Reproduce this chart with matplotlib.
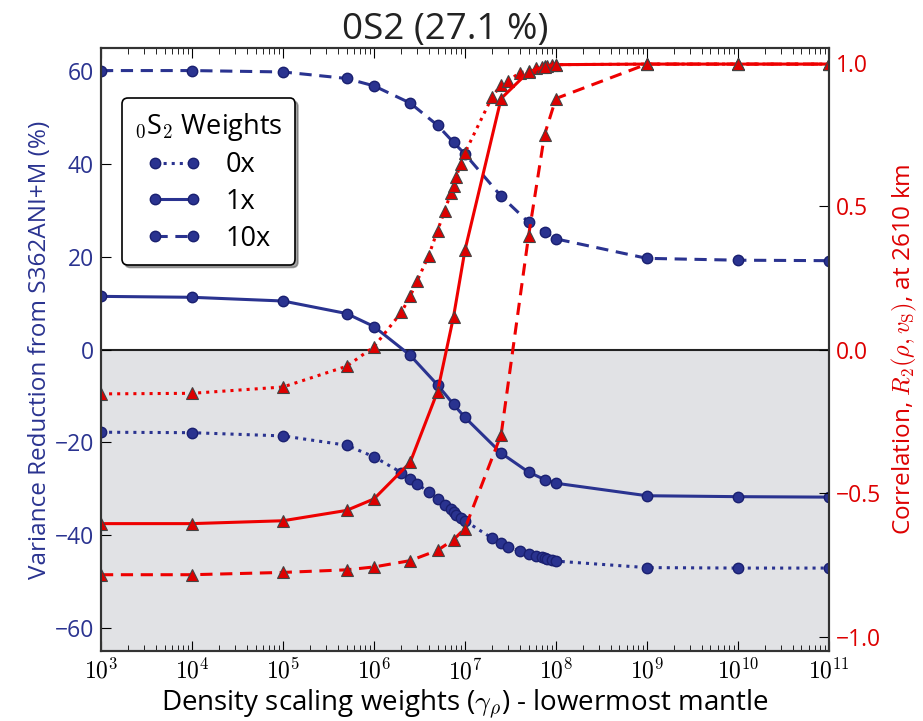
import numpy as np
import matplotlib.pyplot as plt
from matplotlib.ticker import FuncFormatter, FixedLocator

plt.rcParams['font.family'] = ['Open Sans', 'DejaVu Sans']
plt.rcParams['mathtext.fontset'] = 'cm'

# x grids (density scaling weights)
x_sparse = [1e3, 1e4, 1e5, 5e5, 1e6, 2.5e6, 5e6, 7.5e6, 1e7, 2.5e7, 5e7,
            7.5e7, 1e8, 1e9, 1e10, 1e11]
x_dense = [1e3, 1e4, 1e5, 5e5, 1e6, 2e6, 2.5e6, 3e6, 4e6, 5e6, 6e6, 7e6,
           7.5e6, 8e6, 9e6, 1e7, 2e7, 2.5e7, 3e7, 4e7, 5e7, 6e7, 7e7, 7.5e7,
           8e7, 9e7, 1e8, 1e9, 1e10, 1e11]

# variance reduction (%) - left axis
vr_0x = [-17.8, -17.9, -18.6, -20.6, -23.1, -26.5, -27.8, -28.9, -30.8, -32.3,
         -33.5, -34.4, -35.0, -35.6, -36.3, -36.9, -40.7, -41.8, -42.6, -43.4,
         -44.0, -44.5, -44.8, -45.0, -45.2, -45.4, -45.6, -47.0, -47.1, -47.1]
vr_1x = [11.5, 11.3, 10.5, 7.8, 5.0, -1.2, -7.6, -11.8, -14.6, -22.3, -26.4,
         -28.0, -28.8, -31.5, -31.7, -31.8]
vr_10x = [60.2, 60.2, 59.9, 58.5, 56.9, 53.2, 48.4, 44.7, 42.2, 33.1, 27.5,
          25.4, 23.9, 19.7, 19.3, 19.2]

# correlation R2(rho, vs) - right axis
r_0x = [-0.154, -0.152, -0.130, -0.058, 0.010, 0.130, 0.186, 0.241, 0.328,
        0.415, 0.484, 0.546, 0.571, 0.602, 0.646, 0.686, 0.882, 0.923, 0.937,
        0.965, 0.970, 0.980, 0.985, 0.987, 0.989, 0.991, 0.993, 0.995, 0.995,
        0.995]
r_1x = [-0.606, -0.606, -0.596, -0.560, -0.520, -0.393, -0.146, 0.115, 0.346,
        0.875, 0.968, 0.986, 0.993, 0.995, 0.995, 0.995]
r_10x = [-0.784, -0.784, -0.776, -0.767, -0.757, -0.735, -0.699, -0.662,
         -0.623, -0.296, 0.395, 0.749, 0.875, 0.995, 0.995, 0.995]

decades = [3, 4, 5, 6, 7, 8, 9, 10, 11]

blue = '#2a3390'
red = '#ee0000'
red_txt = '#dd0000'

fig = plt.figure(figsize=(9.23, 7.21), dpi=100)
ax1 = fig.add_subplot(111)
fig.subplots_adjust(left=0.1094, right=0.898, bottom=0.097, top=0.933)

ax1.axhspan(-65, 0, color='#e1e2e5', zorder=0)
ax1.axhline(0, color='#222222', lw=1.5, zorder=1)

mk = dict(marker='o', ms=7.5, color=blue, mec='#1a2070', lw=2.2)
ax1.plot(x_dense, vr_0x, linestyle=':', label='0x', **mk)
ax1.plot(x_sparse, vr_1x, linestyle='-', label='1x', **mk)
ax1.plot(x_sparse, vr_10x, linestyle=(0, (4, 2.5)), label='10x', **mk)

ax1.set_xscale('log')
ax1.set_xlim(1e3, 1e11)
ax1.set_ylim(-65, 65)
ax1.set_yticks([-60, -40, -20, 0, 20, 40, 60])
majors = [10.0 ** d for d in decades]
minors = [m * 10.0 ** d for d in decades[:-1] for m in range(2, 10)]
ax1.xaxis.set_major_locator(FixedLocator(majors))
ax1.xaxis.set_minor_locator(FixedLocator(minors))
ax1.xaxis.set_major_formatter(FuncFormatter(lambda v, p: r'$10^{%d}$' % round(np.log10(v))))
ax1.xaxis.set_minor_formatter(FuncFormatter(lambda v, p: ''))
ax1.tick_params(axis='x', which='both', direction='in', top=True, labelsize=17, pad=6)
ax1.tick_params(axis='x', which='major', length=7)
ax1.tick_params(axis='x', which='minor', length=4)
ax1.tick_params(axis='y', direction='in', length=7, labelsize=16.5, labelcolor=blue,
                right=False, pad=5)
ax1.set_xlabel(r'Density scaling weights ($\gamma_\rho$) - lowermost mantle',
               fontsize=20, labelpad=2)
ax1.set_ylabel('Variance Reduction from S362ANI+M (%)', fontsize=17.5, color=blue,
               labelpad=2)
ax1.set_title('0S2 (27.1 %)', fontsize=26.5, pad=7, color='#222222', x=0.4725)
for s in ax1.spines.values():
    s.set_linewidth(1.5)
    s.set_color('#333333')

ax2 = ax1.twinx()
tk = dict(marker='^', ms=8.5, color=red, mfc='#dd0000', mec='#444444', mew=0.8, lw=2.2)
ax2.plot(x_dense, r_0x, linestyle=':', **tk)
ax2.plot(x_sparse, r_1x, linestyle='-', **tk)
ax2.plot(x_sparse, r_10x, linestyle=(0, (4, 2.5)), **tk)
ax2.set_ylim(-1.05, 1.05)
ax2.set_yticks([-1.0, -0.5, 0.0, 0.5, 1.0])
ax2.set_yticklabels(['\u22121.0', '\u22120.5', '0.0', '0.5', '1.0'])
ax2.tick_params(axis='y', direction='in', length=7, labelsize=16.5, labelcolor=red_txt, pad=5)
ax2.set_ylabel(r'Correlation, $R_2(\rho,v_\mathrm{S})$, at 2610 km', fontsize=17.5,
               color=red_txt, labelpad=6)
for s in ax2.spines.values():
    s.set_linewidth(1.5)
    s.set_color('#333333')

leg = ax2.legend(*ax1.get_legend_handles_labels(), title=r'$_0$S$_2$ Weights',
                 loc='upper left', bbox_to_anchor=(0.029, 0.917), borderaxespad=0,
                 numpoints=2, handlelength=2.0, fontsize=19.5, title_fontsize=19.5,
                 labelspacing=0.32, handletextpad=0.9, borderpad=0.45,
                 shadow=True, fancybox=True, framealpha=1, edgecolor='black')
leg.get_frame().set_linewidth(1.2)

fig.savefig('out.png', dpi=100)
